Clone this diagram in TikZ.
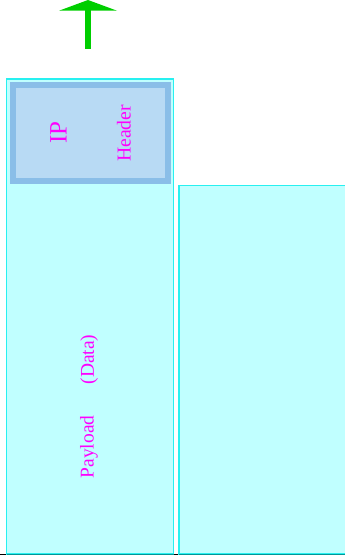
\documentclass[tikz,border=0pt]{standalone}
\usepackage{fontspec}
\setmainfont{Liberation Serif}
\definecolor{boxfill}{RGB}{192,255,255}
\definecolor{boxline}{RGB}{40,240,240}
\definecolor{hdrline}{RGB}{138,190,232}
\definecolor{hdrfill}{RGB}{184,218,244}
\definecolor{arrowgreen}{RGB}{0,206,0}
\definecolor{txtmag}{RGB}{255,0,255}
\definecolor{baseteal}{RGB}{0,150,150}
\tikzset{
  packetbox/.style={fill=boxfill,draw=boxline,line width=1.2pt},
  hdrbox/.style={fill=hdrfill,draw=hdrline,line width=6pt},
  vlabel/.style={text=txtmag,rotate=90,anchor=base,inner sep=0pt},
}
\begin{document}
\begin{tikzpicture}[x=1pt,y=-1pt]
\useasboundingbox (0,0) rectangle (345,560);
% ground line
\draw[black,line width=1pt] (0,554.5) -- (345,554.5);
% boxes
\draw[packetbox] (6.5,79) rectangle (173.5,554);
\draw[packetbox] (179,185.5) rectangle (346,554);
\draw[baseteal,line width=1pt] (6.5,554.5) -- (173.5,554.5);
\draw[baseteal,line width=1pt] (179,554.5) -- (345,554.5);
% header
\draw[hdrbox] (12.5,84.7) rectangle (167.5,181.3);
% arrow
\fill[arrowgreen] (85,10) rectangle (91,49);
\fill[arrowgreen] (59,10.7) -- (88,0) -- (117,10.7) -- cycle;
% labels
\node[vlabel,font=\fontsize{25}{30}\selectfont] (ip) at (66.7,132.5) {IP};
\node[vlabel,font=\fontsize{19.7}{24}\selectfont] (hdr) at (130.7,133.5) {Header};
\node[vlabel,font=\fontsize{19.5}{24}\selectfont] (pay) at (93.5,447) {Payload};
\node[vlabel,font=\fontsize{19.5}{24}\selectfont] (dat) at (93.8,359.5) {(Data)};
\end{tikzpicture}
\end{document}
